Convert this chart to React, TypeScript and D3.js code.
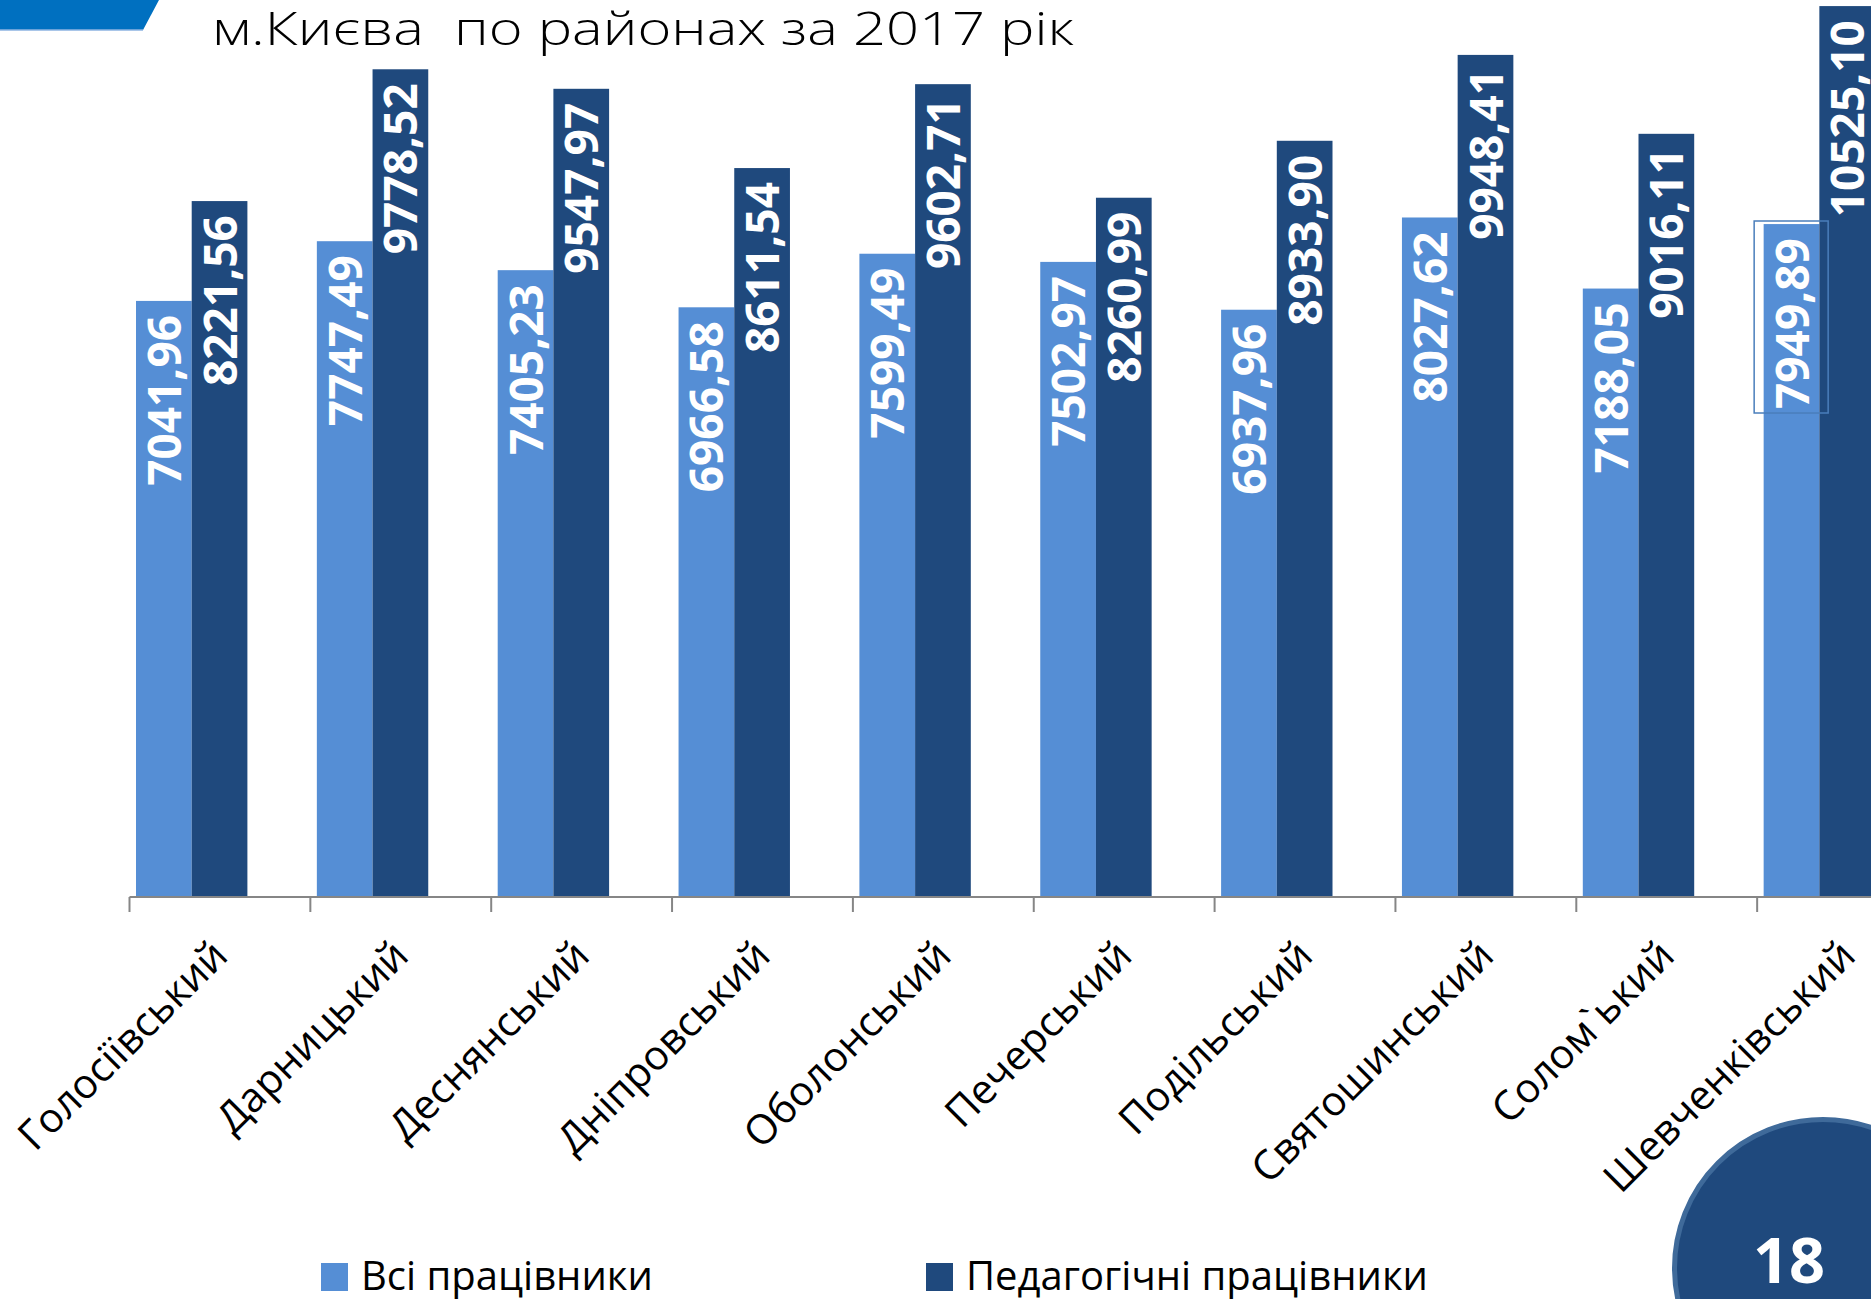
import React from "react";
import * as d3 from "d3";

const categories = [
  "Голосіївський",
  "Дарницький",
  "Деснянський",
  "Дніпровський",
  "Оболонський",
  "Печерський",
  "Подільський",
  "Святошинський",
  "Солом`ький",
  "Шевченківський",
];
const allWorkers = [7041.96, 7747.49, 7405.23, 6966.58, 7599.49, 7502.97, 6937.96, 8027.62, 7188.05, 7949.89];
const pedWorkers = [8221.56, 9778.52, 9547.97, 8611.54, 9602.71, 8260.99, 8933.9, 9948.41, 9016.11, 10525.1];
const seriesNames = ["Всі працівники", "Педагогічні працівники"];
const seriesColors = ["#558ED5", "#1F497D"];
const title = "м.Києва  по районах за 2017 рік";
const pageNumber = "18";

const W = 1871;
const H = 1299;
const axisY = 897;
const left = 129.5;
const catW = 180.85;

export default function App() {
  const x = d3
    .scaleBand<string>()
    .domain(categories)
    .range([left, left + catW * categories.length])
    .paddingInner(0)
    .paddingOuter(0);
  const xs = d3.scaleBand<string>().domain(["0", "1"]).range([6.5, 6.5 + 111.4]).padding(0);
  const y = d3.scaleLinear().domain([0, 10597]).range([axisY, 0]);
  const fmt = (v: number) => d3.format(".2f")(v).replace(".", ",");
  const series = [allWorkers, pedWorkers];

  return (
    <svg
      width={W}
      height={H}
      viewBox={`0 0 ${W} ${H}`}
      style={{ position: "absolute", left: 0, top: 0, background: "#fff" }}
      fontFamily="'Open Sans', sans-serif"
    >
      <rect x={0} y={0} width={W} height={H} fill="#fff" />
      {/* top-left decoration */}
      <polygon points="0,0 159,0 143,30 0,30" fill="#0070C0" />
      <line x1={0} y1={30} x2={143} y2={30} stroke="#8DB3E2" strokeWidth={1.5} />
      {/* title */}
      <text
        x={212}
        y={45}
        fontSize={46}
        fontWeight={300}
        fill="#000"
        textLength={862}
        lengthAdjust="spacingAndGlyphs"
        style={{ whiteSpace: "pre" }}
      >
        {title}
      </text>

      {/* bars */}
      {categories.map((c, i) => (
        <g key={c}>
          {series.map((s, k) => {
            const bx = (x(c) as number) + (xs(String(k)) as number);
            const bw = xs.bandwidth();
            const top = y(s[i]);
            return (
              <g key={k}>
                <rect x={bx} y={top} width={bw} height={axisY - top} fill={seriesColors[k]} />
                <text
                  transform={`translate(${bx + bw / 2 + 17},${top + 14}) rotate(-90)`}
                  textAnchor="end"
                  fontSize={46}
                  fontWeight={700}
                  fill="#fff"
                >
                  {fmt(s[i])}
                </text>
              </g>
            );
          })}
        </g>
      ))}

      {/* selection box around a label */}
      <rect
        x={(x(categories[9]) as number) - 3}
        y={221}
        width={74}
        height={192}
        fill="none"
        stroke="#4A7EBB"
        strokeWidth={1.5}
      />

      {/* axis */}
      <line x1={left} y1={axisY} x2={W} y2={axisY} stroke="#868686" strokeWidth={2} />
      {categories.map((c) => (
        <line
          key={"t" + c}
          x1={x(c) as number}
          x2={x(c) as number}
          y1={axisY}
          y2={axisY + 15}
          stroke="#868686"
          strokeWidth={2}
        />
      ))}
      {categories.map((c) => {
        const cx = (x(c) as number) + x.bandwidth() / 2;
        return (
          <text
            key={"l" + c}
            transform={`translate(${cx + 10},${axisY + 61}) rotate(-45)`}
            textAnchor="end"
            fontSize={41}
            fill="#000"
          >
            {c}
          </text>
        );
      })}

      {/* legend */}
      {seriesNames.map((n, k) => {
        const lx = [321, 926][k];
        return (
          <g key={n}>
            <rect x={lx} y={1263} width={27} height={28} fill={seriesColors[k]} />
            <text x={lx + 40} y={1290} fontSize={40} fill="#000">
              {n}
            </text>
          </g>
        );
      })}

      {/* page number circle */}
      <circle cx={1823} cy={1268} r={148.5} fill="#1F497D" stroke="#3F6A9A" strokeWidth={5} />
      <text x={1789} y={1283} textAnchor="middle" fontSize={63} fontWeight={700} fill="#fff">
        {pageNumber}
      </text>
    </svg>
  );
}
